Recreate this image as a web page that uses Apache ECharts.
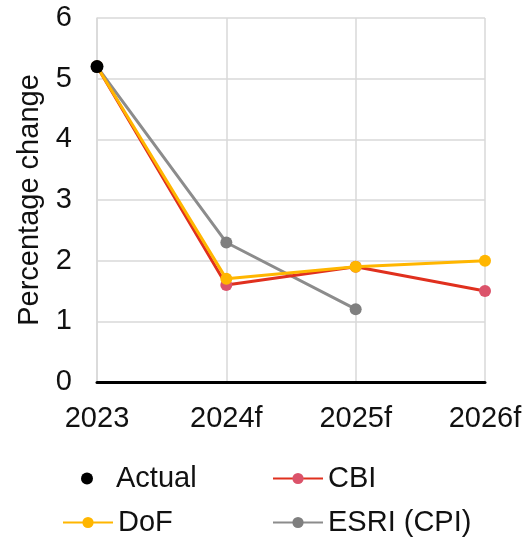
<!DOCTYPE html>
<html>
<head>
<meta charset="utf-8">
<script src="https://cdn.jsdelivr.net/npm/echarts@6/dist/echarts.min.js"></script>
<style>
  html, body { margin: 0; padding: 0; background: #fff; }
  #chart { width: 525px; height: 544px; }
</style>
</head>
<body>
<div id="chart"></div>
<script>
// Inflation outlook: actual outturn and forecasts by source
const years = ['2023', '2024f', '2025f', '2026f'];
const actual = [5.2, null, null, null];
const cbi = [5.2, 1.6, 1.9, 1.5];
const dof = [5.2, 1.7, 1.9, 2.0];
const esri = [5.2, 2.3, 1.2, null];
const yTicks = [0, 1, 2, 3, 4, 5, 6];

const font = 'Liberation Sans, Arial, sans-serif';
const fs = 29;
const chart = echarts.init(document.getElementById('chart'), null, { renderer: 'canvas' });

function legendAt(name, left, top, w, h, padLeft) {
  return {
    data: [name], left: left, top: top, orient: 'horizontal',
    itemWidth: w, itemHeight: h, itemGap: 0,
    textStyle: { fontFamily: font, fontSize: fs, color: '#111', padding: [0, 0, 0, padLeft || 0] },
    padding: 0
  };
}

chart.setOption({
  animation: false,
  grid: { left: 97, right: 40, top: 18, bottom: 162 },
  legend: [
    legendAt('Actual', 81, 464, 12, 12, 18),
    legendAt('CBI', 272, 464, 50, 14),
    legendAt('DoF', 62, 508, 50, 14),
    legendAt('ESRI (CPI)', 272, 508, 50, 14)
  ],
  xAxis: {
    type: 'category', data: years, boundaryGap: false,
    axisLine: { lineStyle: { color: '#000', width: 3 } },
    axisTick: { show: false },
    axisLabel: { fontFamily: font, fontSize: fs, color: '#111', margin: 22 },
    splitLine: { show: true, lineStyle: { color: '#d9d9d9', width: 1.5 } }
  },
  yAxis: {
    type: 'value', min: yTicks[0], max: yTicks[yTicks.length - 1], interval: 1,
    name: 'Percentage change', nameLocation: 'middle', nameGap: 52,
    nameTextStyle: { fontFamily: font, fontSize: fs, color: '#111' },
    axisLine: { show: true, lineStyle: { color: '#d9d9d9', width: 1.5 } },
    axisTick: { show: false },
    axisLabel: { fontFamily: font, fontSize: fs, color: '#111', margin: 25 },
    splitLine: { lineStyle: { color: '#d9d9d9', width: 1.5 } }
  },
  series: [
    {
      name: 'ESRI (CPI)', type: 'line', data: esri, symbol: 'circle', symbolSize: 12,
      itemStyle: { color: '#7f7f7f' }, lineStyle: { color: '#8c8c8c', width: 3 }, z: 2
    },
    {
      name: 'CBI', type: 'line', data: cbi, symbol: 'circle', symbolSize: 12,
      itemStyle: { color: '#db536a' }, lineStyle: { color: '#e0301e', width: 3 }, z: 3
    },
    {
      name: 'DoF', type: 'line', data: dof, symbol: 'circle', symbolSize: 12,
      itemStyle: { color: '#ffb600' }, lineStyle: { color: '#ffb600', width: 3 }, z: 4
    },
    {
      name: 'Actual', type: 'scatter', data: actual, symbol: 'circle', symbolSize: 13,
      itemStyle: { color: '#000', opacity: 1 }, z: 5
    }
  ]
});
</script>
</body>
</html>
